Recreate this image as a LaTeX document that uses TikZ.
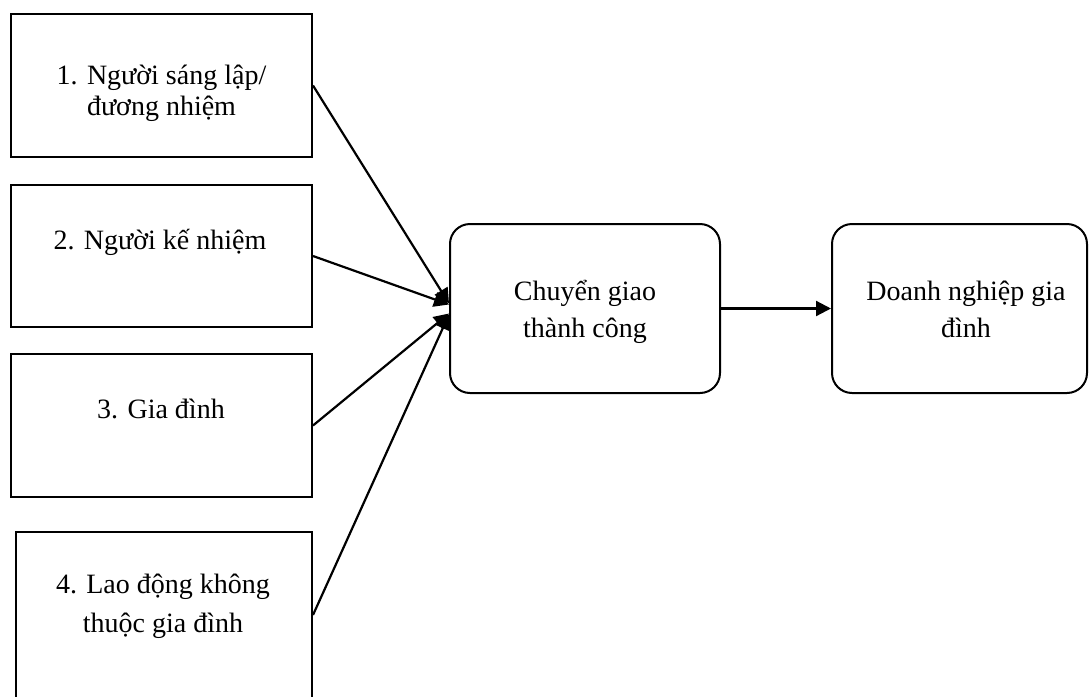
\documentclass[tikz,border=0pt]{standalone}
\usepackage{fontspec}
\setmainfont{Liberation Serif}
\usetikzlibrary{arrows.meta}
\begin{document}
\begin{tikzpicture}[x=0.5pt,y=-0.5pt,
  sqbox/.style={draw, line width=1pt, inner sep=0, rectangle},
  rbox/.style={draw, line width=1pt, inner sep=0, rectangle, rounded corners=10pt},
  txt/.style={inner sep=0, anchor=base, font=\fontsize{14}{15}\selectfont},
  conn/.style={line width=1.1pt, -{Triangle[length=7.5pt,width=7.5pt]}}]
\clip (0,0) rectangle (1089,697);
% left boxes
\node[sqbox, minimum width=150.5pt, minimum height=71.5pt] (b1) at (161.5,85.5) {};
\node[sqbox, minimum width=150.5pt, minimum height=71pt] (b2) at (161.5,256) {};
\node[sqbox, minimum width=150.5pt, minimum height=71.5pt] (b3) at (161.5,425.5) {};
\node[sqbox, minimum width=148pt, minimum height=83pt] (b4) at (164,615) {};
% rounded boxes
\node[rbox, minimum width=135pt, minimum height=84.5pt] (c) at (585,308.5) {};
\node[rbox, minimum width=127.5pt, minimum height=84.5pt] (d) at (959.5,308.5) {};
% texts
\node[txt] (t1) at (161.5,84) {\parbox[t]{145pt}{\centering\fontsize{14}{15.5}\selectfont 1. Người sáng lập/\\đương nhiệm}};
\node[txt] (t2) at (160,249) {2. Người kế nhiệm};
\node[txt] (t3) at (161,418) {3. Gia đình};
\node[txt] (t4) at (163,593) {\parbox[t]{145pt}{\centering\fontsize{14}{19.5}\selectfont 4. Lao động không\\thuộc gia đình}};
\node[txt] (tc) at (585,300) {\parbox[t]{130pt}{\centering\fontsize{14}{18.5}\selectfont Chuyển giao\\thành công}};
\node[txt] (td) at (966,300) {\parbox[t]{125pt}{\centering\fontsize{14}{18.5}\selectfont Doanh nghiệp gia\\đình}};
% connectors
\draw[conn] (b1.east) -- ([yshift=2.5pt]c.west);
\draw[conn] (b2.east) -- ([yshift=2pt]c.west);
\draw[conn] (b3.east) -- ([yshift=-2.5pt]c.west);
\draw[conn] (b4.east) -- ([yshift=-3pt]c.west);
\draw[conn] (c.east) -- (d.west);
\end{tikzpicture}
\end{document}
